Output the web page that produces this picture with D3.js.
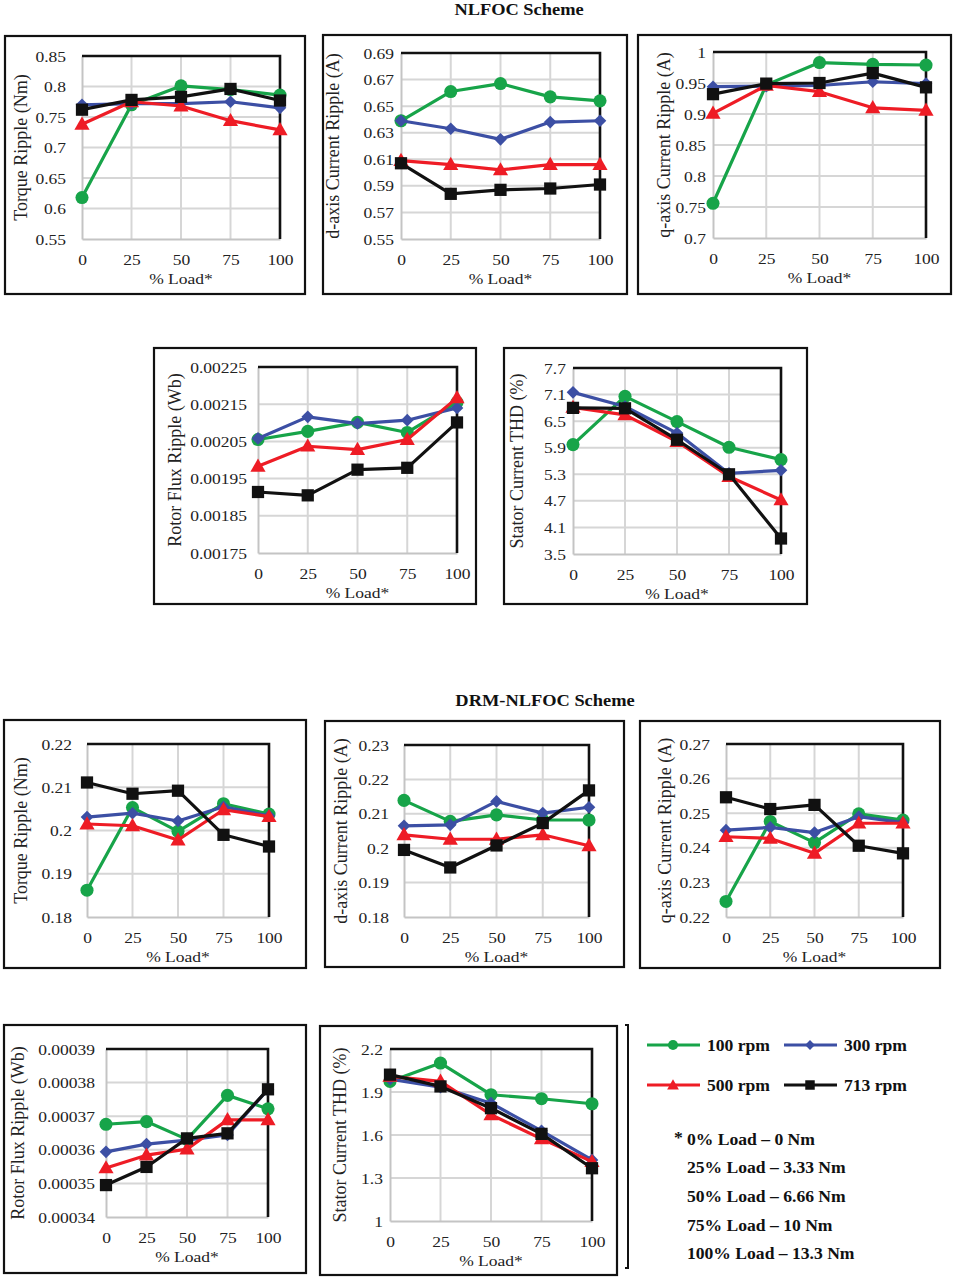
<!DOCTYPE html>
<html><head><meta charset="utf-8">
<script src="https://cdnjs.cloudflare.com/ajax/libs/d3/7.8.5/d3.min.js"></script>
<style>body{margin:0;background:#fff}svg{display:block}</style>
</head><body>
<script>
// ---------------- DATA ----------------
const loads = [0, 25, 50, 75, 100];
const seriesNames = ["100 rpm", "300 rpm", "500 rpm", "713 rpm"];
const notes = ["0% Load \u2013 0 Nm", "25% Load \u2013 3.33 Nm", "50% Load \u2013 6.66 Nm", "75% Load \u2013 10 Nm", "100% Load \u2013 13.3 Nm"];

// NLFOC – torque ripple (Nm)
const torqueNlfocTicks = ["0.55","0.6","0.65","0.7","0.75","0.8","0.85"];
const torqueNlfoc100 = [0.618, 0.770, 0.801, 0.795, 0.786];
const torqueNlfoc300 = [0.770, 0.772, 0.772, 0.775, 0.765];
const torqueNlfoc500 = [0.738, 0.775, 0.768, 0.744, 0.729];
const torqueNlfoc713 = [0.762, 0.778, 0.783, 0.796, 0.777];
// NLFOC – d-axis current ripple (A)
const dNlfocTicks = ["0.55","0.57","0.59","0.61","0.63","0.65","0.67","0.69"];
const dNlfoc100 = [0.639, 0.661, 0.667, 0.657, 0.654];
const dNlfoc300 = [0.639, 0.633, 0.625, 0.638, 0.639];
const dNlfoc500 = [0.609, 0.606, 0.602, 0.606, 0.606];
const dNlfoc713 = [0.607, 0.584, 0.587, 0.588, 0.591];
// NLFOC – q-axis current ripple (A)
const qNlfocTicks = ["0.7","0.75","0.8","0.85","0.9","0.95","1"];
const qNlfoc100 = [0.756, 0.947, 0.983, 0.980, 0.979];
const qNlfoc300 = [0.944, 0.945, 0.946, 0.952, 0.949];
const qNlfoc500 = [0.901, 0.946, 0.936, 0.910, 0.906];
const qNlfoc713 = [0.932, 0.949, 0.950, 0.966, 0.943];
// NLFOC – rotor flux ripple (Wb)
const fluxNlfocTicks = ["0.00175","0.00185","0.00195","0.00205","0.00215","0.00225"];
const fluxNlfoc100 = [0.002055, 0.002077, 0.002101, 0.002074, 0.002155];
const fluxNlfoc300 = [0.002058, 0.002116, 0.002098, 0.002107, 0.002140];
const fluxNlfoc500 = [0.001983, 0.002037, 0.002028, 0.002055, 0.002167];
const fluxNlfoc713 = [0.001914, 0.001905, 0.001974, 0.001979, 0.002101];
// NLFOC – stator current THD (%)
const thdNlfocTicks = ["3.5","4.1","4.7","5.3","5.9","6.5","7.1","7.7"];
const thdNlfoc100 = [5.97, 7.06, 6.49, 5.91, 5.63];
const thdNlfoc300 = [7.15, 6.83, 6.23, 5.32, 5.39];
const thdNlfoc500 = [6.81, 6.64, 6.04, 5.25, 4.72];
const thdNlfoc713 = [6.80, 6.79, 6.08, 5.30, 3.85];

// DRM-NLFOC – torque ripple (Nm)
const torqueDrmTicks = ["0.18","0.19","0.2","0.21","0.22"];
const torqueDrm100 = [0.1862, 0.2053, 0.1998, 0.2062, 0.2038];
const torqueDrm300 = [0.2031, 0.2040, 0.2022, 0.2055, 0.2034];
const torqueDrm500 = [0.2015, 0.2011, 0.1978, 0.2048, 0.2032];
const torqueDrm713 = [0.2111, 0.2085, 0.2092, 0.1990, 0.1963];
// DRM-NLFOC – d-axis current ripple (A)
const dDrmTicks = ["0.18","0.19","0.2","0.21","0.22","0.23"];
const dDrm100 = [0.2139, 0.2078, 0.2097, 0.2082, 0.2082];
const dDrm300 = [0.2065, 0.2068, 0.2136, 0.2102, 0.2119];
const dDrm500 = [0.2039, 0.2026, 0.2026, 0.2039, 0.2007];
const dDrm713 = [0.1995, 0.1944, 0.2008, 0.2073, 0.2168];
// DRM-NLFOC – q-axis current ripple (A)
const qDrmTicks = ["0.22","0.23","0.24","0.25","0.26","0.27"];
const qDrm100 = [0.2245, 0.2476, 0.2415, 0.2498, 0.2480];
const qDrm300 = [0.2451, 0.2459, 0.2444, 0.2490, 0.2473];
const qDrm500 = [0.2432, 0.2427, 0.2384, 0.2471, 0.2471];
const qDrm713 = [0.2546, 0.2512, 0.2524, 0.2406, 0.2384];
// DRM-NLFOC – rotor flux ripple (Wb)
const fluxDrmTicks = ["0.00034","0.00035","0.00036","0.00037","0.00038","0.00039"];
const fluxDrm100 = [0.0003676, 0.0003684, 0.0003631, 0.0003762, 0.0003722];
const fluxDrm300 = [0.0003594, 0.0003617, 0.0003629, 0.0003644, 0.0003780];
const fluxDrm500 = [0.0003546, 0.0003584, 0.0003602, 0.0003689, 0.0003689];
const fluxDrm713 = [0.0003495, 0.0003549, 0.0003634, 0.0003649, 0.0003780];
// DRM-NLFOC – stator current THD (%)
const thdDrmTicks = ["1","1.3","1.6","1.9","2.2"];
const thdDrm100 = [1.974, 2.102, 1.881, 1.853, 1.818];
const thdDrm300 = [1.990, 1.934, 1.822, 1.629, 1.426];
const thdDrm500 = [2.009, 1.974, 1.741, 1.573, 1.414];
const thdDrm713 = [2.021, 1.939, 1.787, 1.608, 1.368];

// ---------------- STYLE / LAYOUT ----------------
const FONT = "'Liberation Serif','Times New Roman',Times,serif";
const SX = 1.13;
const colors = ["#17a449", "#3c4fa4", "#ee1c25", "#111111"];
const symbols = ["circle", "diamond", "triangle", "square"];

const panels = [
  {title:"Torque Ripple (Nm)", ticks:torqueNlfocTicks, s:[torqueNlfoc100,torqueNlfoc300,torqueNlfoc500,torqueNlfoc713], box:[5,36,305,294], plot:[82,56,280,239], gap:16, tx:21},
  {title:"d-axis Current Ripple (A)", ticks:dNlfocTicks, s:[dNlfoc100,dNlfoc300,dNlfoc500,dNlfoc713], box:[323,35,627,294], plot:[401,53,600,239], gap:7, tx:333},
  {title:"q-axis Current Ripple (A)", ticks:qNlfocTicks, s:[qNlfoc100,qNlfoc300,qNlfoc500,qNlfoc713], box:[638,35,951,294], plot:[713,52,926,238], gap:7, tx:664},
  {title:"Rotor Flux Ripple (Wb)", ticks:fluxNlfocTicks, s:[fluxNlfoc100,fluxNlfoc300,fluxNlfoc500,fluxNlfoc713], box:[154,348,476,604], plot:[258,367,457,553], gap:11, tx:175},
  {title:"Stator Current THD  (%)", ticks:thdNlfocTicks, s:[thdNlfoc100,thdNlfoc300,thdNlfoc500,thdNlfoc713], box:[504,348,807,604], plot:[573,368,781,554], gap:7, tx:517},
  {title:"Torque Ripple (Nm)", ticks:torqueDrmTicks, s:[torqueDrm100,torqueDrm300,torqueDrm500,torqueDrm713], box:[4,720,306,968], plot:[87,744,269,917], gap:15, tx:21},
  {title:"d-axis Current Ripple (A)", ticks:dDrmTicks, s:[dDrm100,dDrm300,dDrm500,dDrm713], box:[325,721,624,967], plot:[404,745,589,917], gap:15, tx:341},
  {title:"q-axis Current Ripple (A)", ticks:qDrmTicks, s:[qDrm100,qDrm300,qDrm500,qDrm713], box:[640,721,940,968], plot:[726,744,903,917], gap:16, tx:665},
  {title:"Rotor Flux Ripple (Wb)", ticks:fluxDrmTicks, s:[fluxDrm100,fluxDrm300,fluxDrm500,fluxDrm713], box:[4,1025,306,1273], plot:[106,1049,268,1217], gap:11, tx:18},
  {title:"Stator Current THD (%)", ticks:thdDrmTicks, s:[thdDrm100,thdDrm300,thdDrm500,thdDrm713], box:[320,1026,617,1275], plot:[390,1049,592,1221], gap:7, tx:340}
];

const svg = d3.select("body").append("svg").attr("width", 955).attr("height", 1277);

function htext(g, x, y, str, o = {}) {
  return g.append("text")
    .attr("transform", `translate(${x},${y}) scale(${o.sx ?? SX},1)`)
    .attr("text-anchor", o.anchor || "middle")
    .attr("font-family", FONT)
    .attr("font-size", o.size || 15.5)
    .attr("font-weight", o.weight || "normal")
    .attr("fill", o.fill || "#222")
    .text(str);
}

function symbolPath(kind, size) {
  if (kind === "circle") return d3.symbol().type(d3.symbolCircle).size(size)();
  if (kind === "triangle") return d3.symbol().type(d3.symbolTriangle).size(size)();
  return d3.symbol().type(d3.symbolSquare).size(size)();
}
const markerSize = {circle: 135, diamond: 80, triangle: 100, square: 150};

function drawMarker(g, kind, cx, cy, color, scale = 1) {
  const p = g.append("path")
    .attr("d", symbolPath(kind, markerSize[kind] * scale))
    .attr("fill", color);
  const rot = kind === "diamond" ? " rotate(45)" : "";
  const dy = kind === "triangle" ? 1 : 0;
  p.attr("transform", `translate(${cx},${cy + dy})${rot}`);
  return p;
}

// titles
htext(svg, 519, 15, "NLFOC Scheme", {size: 16, weight: "bold", fill: "#111", sx: 1.15});
htext(svg, 545, 706, "DRM-NLFOC Scheme", {size: 16, weight: "bold", fill: "#111", sx: 1.15});

panels.forEach(P => {
  const g = svg.append("g");
  const [bl, bt, br, bb] = P.box;
  g.append("rect").attr("x", bl).attr("y", bt).attr("width", br - bl).attr("height", bb - bt)
    .attr("fill", "none").attr("stroke", "#111").attr("stroke-width", 2.2);

  const [pl, pt, pr, pb] = P.plot;
  const tickVals = P.ticks.map(Number);
  const x = d3.scaleLinear().domain([0, 100]).range([pl, pr]);
  const y = d3.scaleLinear().domain([tickVals[0], tickVals[tickVals.length - 1]]).range([pb, pt]);

  // gridlines
  g.selectAll(".hg").data(tickVals.slice(1, -1)).join("line")
    .attr("x1", pl).attr("x2", pr).attr("y1", d => y(d)).attr("y2", d => y(d))
    .attr("stroke", "#d6d6d6").attr("stroke-width", 2);
  g.selectAll(".vg").data(loads.slice(1, -1)).join("line")
    .attr("y1", pt).attr("y2", pb).attr("x1", d => x(d)).attr("x2", d => x(d))
    .attr("stroke", "#d6d6d6").attr("stroke-width", 2);

  // axes
  const ya = g.append("g").attr("transform", `translate(${pl},0)`)
    .call(d3.axisLeft(y).tickValues(tickVals).tickFormat((d, i) => P.ticks[i]).tickSize(0).tickSizeOuter(0));
  ya.select(".domain").attr("stroke", "#c4c4c4").attr("stroke-width", 2);
  ya.attr("font-family", FONT).attr("font-size", 15.5).style("color", "#222");
  ya.selectAll("text").attr("x", null).attr("dy", null)
    .attr("transform", `translate(${-P.gap},5) scale(${SX},1)`);

  const xa = g.append("g").attr("transform", `translate(0,${pb})`)
    .call(d3.axisBottom(x).tickValues(loads).tickFormat(d3.format("d")).tickSize(0).tickSizeOuter(0));
  xa.select(".domain").attr("stroke", "#c4c4c4").attr("stroke-width", 2);
  xa.attr("font-family", FONT).attr("font-size", 15.5).style("color", "#222");
  xa.selectAll("text").attr("y", null).attr("dy", null)
    .attr("transform", `translate(0,26) scale(${SX},1)`);

  // plot-area top/right border
  g.append("path").attr("d", `M${pl},${pt}H${pr}V${pb}`).attr("fill", "none")
    .attr("stroke", "#111").attr("stroke-width", 2.6);

  // titles
  htext(g, (pl + pr) / 2, pb + 45, "% Load*");
  g.append("text")
    .attr("transform", `translate(${P.tx},${(pt + pb) / 2}) rotate(-90)`)
    .attr("text-anchor", "middle").attr("dominant-baseline", "central")
    .attr("font-family", FONT).attr("font-size", 18).attr("fill", "#222")
    .text(P.title);

  // series
  const line = d3.line().x((d, i) => x(loads[i])).y(d => y(d));
  P.s.forEach((vals, si) => {
    g.append("path").attr("d", line(vals)).attr("fill", "none")
      .attr("stroke", colors[si]).attr("stroke-width", 3.2).attr("stroke-linejoin", "round");
    vals.forEach((v, i) => drawMarker(g, symbols[si], x(loads[i]), y(v), colors[si]));
  });
});

// legend bracket
svg.append("path").attr("d", "M625,1025H628V1268H625").attr("fill", "none")
  .attr("stroke", "#111").attr("stroke-width", 2);

const legendPos = [[647, 1045], [784, 1045], [647, 1085], [784, 1085]];
seriesNames.forEach((name, i) => {
  const [lx, ly] = legendPos[i];
  svg.append("line").attr("x1", lx).attr("x2", lx + 53).attr("y1", ly).attr("y2", ly)
    .attr("stroke", colors[i]).attr("stroke-width", 3.2);
  drawMarker(svg, symbols[i], lx + 26, ly, colors[i], 0.6);
  htext(svg, lx + 60, ly + 6, name, {anchor: "start", size: 16, weight: "bold", fill: "#111", sx: 1.1});
});

const noteY = [1145, 1173, 1202, 1231, 1259];
htext(svg, 674, noteY[0] - 2, "*", {anchor: "start", size: 16, weight: "bold", fill: "#111", sx: 1.1});
notes.forEach((t, i) => {
  htext(svg, 687, noteY[i], t, {anchor: "start", size: 16, weight: "bold", fill: "#111", sx: 1.1});
});
</script>
</body></html>
